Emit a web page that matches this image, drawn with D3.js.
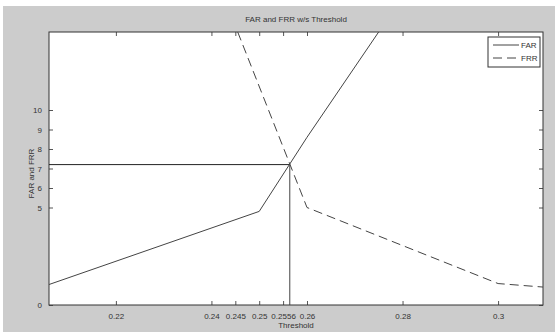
<!DOCTYPE html>
<html lang="en">
<head>
  <meta charset="UTF-8">
  <title>FAR and FRR w/s Threshold</title>
  <script src="https://d3js.org/d3.v7.min.js"></script>
  <style>
    body {
      margin: 0;
      padding: 0;
      background: #fff;
      font-family: 'Liberation Sans', Arial, sans-serif;
    }
    svg text {
      font-size: 8px;
      fill: #333;
    }
  </style>
</head>
<body>
  <div id="chart"></div>

  <script>
    // values
    const farThreshold = [0.206, 0.25, 0.26, 0.275];
    const farValues = [1.05, 4.8, 8.6, 14];
    const frrThreshold = [0.2455, 0.26, 0.3, 0.3094];
    const frrValues = [14, 5.0, 1.1, 0.92];
    const crossPoint = { x: 0.2564, y: 7.2 };

    const xTicks = [0.22, 0.24, 0.245, 0.25, 0.255, 0.26, 0.28, 0.3];
    const xTickLabels = ["0.22", "0.24", "0.245", "0.25", "0.2556", "0.26", "0.28", "0.3"];
    const yTicks = [0, 5, 6, 7, 8, 9, 10];

    const W = 555, H = 332;
    const plot = { left: 49, right: 543, top: 32, bottom: 305 };

    const svg = d3.select("#chart")
      .append("svg")
      .attr("width", W)
      .attr("height", H);

    // figure background
    svg.append("rect")
      .attr("x", 3).attr("y", 6)
      .attr("width", W - 3).attr("height", H - 6)
      .attr("fill", "#cccccc");

    const x = d3.scaleLinear()
      .domain([0.206, 0.3094])
      .range([plot.left, plot.right]);

    const y = d3.scaleLinear()
      .domain([0, 14])
      .range([plot.bottom, plot.top]);

    // axes area
    svg.append("rect")
      .attr("x", plot.left).attr("y", plot.top)
      .attr("width", plot.right - plot.left)
      .attr("height", plot.bottom - plot.top)
      .attr("fill", "#fff");

    svg.append("clipPath").attr("id", "clip")
      .append("rect")
      .attr("x", plot.left).attr("y", plot.top)
      .attr("width", plot.right - plot.left)
      .attr("height", plot.bottom - plot.top);

    // bottom axis with inward ticks
    const xAxis = svg.append("g")
      .attr("transform", `translate(0,${plot.bottom})`)
      .call(d3.axisBottom(x).tickValues(xTicks)
        .tickFormat((d, i) => xTickLabels[i])
        .tickSizeInner(-4).tickSizeOuter(0).tickPadding(8));
    xAxis.select(".domain").remove();
    xAxis.selectAll("line").attr("stroke", "#555");
    xAxis.selectAll("text").attr("font-family", null).attr("font-size", null);

    // top mirrored ticks
    const xTop = svg.append("g")
      .attr("transform", `translate(0,${plot.top})`)
      .call(d3.axisTop(x).tickValues(xTicks).tickFormat("")
        .tickSizeInner(-4).tickSizeOuter(0));
    xTop.select(".domain").remove();
    xTop.selectAll("line").attr("stroke", "#555");

    // left axis
    const yAxis = svg.append("g")
      .attr("transform", `translate(${plot.left},0)`)
      .call(d3.axisLeft(y).tickValues(yTicks).tickFormat(d3.format("d"))
        .tickSizeInner(-4).tickSizeOuter(0).tickPadding(7));
    yAxis.select(".domain").remove();
    yAxis.selectAll("line").attr("stroke", "#555");
    yAxis.selectAll("text").attr("font-family", null).attr("font-size", null);

    // right mirrored ticks
    const yRight = svg.append("g")
      .attr("transform", `translate(${plot.right},0)`)
      .call(d3.axisRight(y).tickValues(yTicks).tickFormat("")
        .tickSizeInner(-4).tickSizeOuter(0));
    yRight.select(".domain").remove();
    yRight.selectAll("line").attr("stroke", "#555");

    // box
    svg.append("rect")
      .attr("x", plot.left).attr("y", plot.top)
      .attr("width", plot.right - plot.left)
      .attr("height", plot.bottom - plot.top)
      .attr("fill", "none")
      .attr("stroke", "#333")
      .attr("stroke-width", 1);

    const line = d3.line()
      .x(d => x(d[0]))
      .y(d => y(d[1]));

    const g = svg.append("g").attr("clip-path", "url(#clip)");

    // crosshair at the equal error point
    g.append("line")
      .attr("x1", plot.left).attr("x2", x(crossPoint.x))
      .attr("y1", y(crossPoint.y)).attr("y2", y(crossPoint.y))
      .attr("stroke", "#222").attr("stroke-width", 1);
    g.append("line")
      .attr("x1", x(crossPoint.x)).attr("x2", x(crossPoint.x))
      .attr("y1", plot.bottom).attr("y2", y(crossPoint.y))
      .attr("stroke", "#444").attr("stroke-width", 1);

    // FAR (solid)
    g.append("path")
      .datum(d3.zip(farThreshold, farValues))
      .attr("d", line)
      .attr("fill", "none")
      .attr("stroke", "#444")
      .attr("stroke-width", 1);

    // FRR (dashed)
    g.append("path")
      .datum(d3.zip(frrThreshold, frrValues))
      .attr("d", line)
      .attr("fill", "none")
      .attr("stroke", "#444")
      .attr("stroke-width", 1)
      .attr("stroke-dasharray", "9,5");

    // title and labels
    svg.append("text")
      .attr("x", (plot.left + plot.right) / 2)
      .attr("y", 22)
      .attr("text-anchor", "middle")
      .text("FAR and FRR w/s Threshold");

    svg.append("text")
      .attr("x", (plot.left + plot.right) / 2)
      .attr("y", 328)
      .attr("text-anchor", "middle")
      .text("Threshold");

    svg.append("text")
      .attr("transform", `translate(34,${(plot.top + plot.bottom) / 2 + 5}) rotate(-90)`)
      .attr("text-anchor", "middle")
      .text("FAR and FRR");

    // legend
    const legend = svg.append("g").attr("transform", "translate(488,37)");
    legend.append("rect")
      .attr("width", 52).attr("height", 30)
      .attr("fill", "#fff")
      .attr("stroke", "#333");
    const legendItems = [
      { name: "FAR", dash: null },
      { name: "FRR", dash: "9,5" }
    ];
    legendItems.forEach((item, i) => {
      const ly = 8 + i * 13;
      legend.append("line")
        .attr("x1", 5).attr("x2", 31)
        .attr("y1", ly).attr("y2", ly)
        .attr("stroke", "#444")
        .attr("stroke-dasharray", item.dash);
      legend.append("text")
        .attr("x", 33).attr("y", ly + 3)
        .text(item.name);
    });
  </script>
</body>
</html>
